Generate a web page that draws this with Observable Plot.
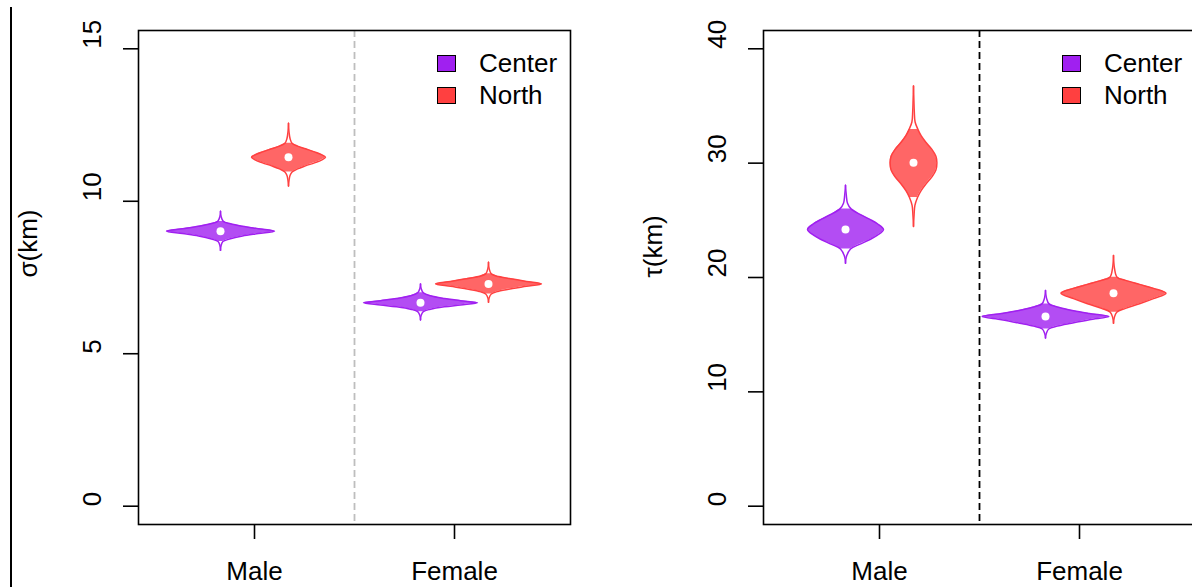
<!DOCTYPE html>
<html><head><meta charset="utf-8">
<script src="https://cdn.jsdelivr.net/npm/d3@7"></script>
<script src="https://cdn.jsdelivr.net/npm/@observablehq/plot@0.6"></script>
<style>
html,body{margin:0;padding:0;background:#fff;overflow:hidden;}
#root{position:relative;width:1192px;height:587px;overflow:hidden;font-family:"Liberation Sans",Arial,sans-serif;}
.panel{position:absolute;top:0;}
.legend{position:absolute;top:47px;font-size:26px;color:#000;}
.legend .row{display:flex;align-items:center;height:32px;}
.legend .sw{width:17px;height:15px;border:1.6px solid #000;margin-right:23px;}
#edge{position:absolute;left:10px;top:7px;width:1.5px;height:580px;background:#000;}
</style></head>
<body><div id="root"><div id="edge"></div></div>
<script>
// ---- data ----
const groups = ["Male", "Female"];
const sites = ["Center", "North"];
const siteStroke = ["#A020F0", "#FF4040"];
const siteFill = ["#B34DF3", "#FF6666"];
const sigmaTicks = [0, 5, 10, 15];
const tauTicks = [0, 10, 20, 30, 40];

// violin profiles: v = value, w = half width (x units); lo/hi = filled interval; med = median
const sigmaMaleCenter = {med: 9.02, lo: 8.68, hi: 9.34,
  v: [8.39, 8.55, 8.68, 8.76, 8.86, 8.94, 9.02, 9.10, 9.18, 9.26, 9.34, 9.50, 9.67],
  w: [0, 0.003, 0.012, 0.045, 0.11, 0.19, 0.27, 0.19, 0.11, 0.05, 0.014, 0.003, 0]};
const sigmaMaleNorth = {med: 11.44, lo: 10.96, hi: 11.90,
  v: [10.50, 10.70, 10.85, 10.96, 11.06, 11.16, 11.26, 11.35, 11.44, 11.53, 11.62, 11.72, 11.81, 11.90, 12.05, 12.25, 12.56],
  w: [0, 0.003, 0.008, 0.018, 0.045, 0.085, 0.13, 0.165, 0.185, 0.165, 0.13, 0.085, 0.045, 0.018, 0.008, 0.003, 0]};
const sigmaFemaleCenter = {med: 6.67, lo: 6.38, hi: 7.00,
  v: [6.11, 6.25, 6.38, 6.46, 6.54, 6.60, 6.67, 6.74, 6.81, 6.90, 7.00, 7.14, 7.29],
  w: [0, 0.003, 0.014, 0.05, 0.12, 0.2, 0.285, 0.2, 0.12, 0.05, 0.014, 0.003, 0]};
const sigmaFemaleNorth = {med: 7.29, lo: 6.96, hi: 7.62,
  v: [6.69, 6.83, 6.96, 7.05, 7.14, 7.21, 7.29, 7.37, 7.45, 7.53, 7.62, 7.80, 8.00],
  w: [0, 0.003, 0.014, 0.05, 0.12, 0.19, 0.265, 0.19, 0.12, 0.05, 0.014, 0.003, 0]};

const tauMaleCenter = {med: 24.2, lo: 22.5, hi: 26.0,
  v: [21.25, 21.8, 22.5, 22.9, 23.3, 23.7, 24.2, 24.7, 25.1, 25.5, 26.0, 26.5, 27.2, 28.07],
  w: [0, 0.004, 0.025, 0.07, 0.12, 0.16, 0.19, 0.16, 0.12, 0.075, 0.028, 0.01, 0.004, 0]};
const tauMaleNorth = {med: 30.03, lo: 27.0, hi: 32.95,
  v: [24.47, 25.5, 26.3, 27.0, 27.6, 28.2, 28.8, 29.4, 30.03, 30.6, 31.2, 31.8, 32.4, 32.95, 33.6, 34.5, 35.5, 36.75],
  w: [0, 0.003, 0.007, 0.02, 0.038, 0.063, 0.092, 0.112, 0.117, 0.112, 0.092, 0.063, 0.038, 0.022, 0.008, 0.004, 0.002, 0]};
const tauFemaleCenter = {med: 16.58, lo: 15.5, hi: 17.69,
  v: [14.71, 15.1, 15.5, 15.75, 16.0, 16.3, 16.58, 16.85, 17.1, 17.4, 17.69, 18.2, 18.86],
  w: [0, 0.004, 0.016, 0.06, 0.13, 0.22, 0.317, 0.22, 0.14, 0.065, 0.018, 0.005, 0]};
const tauFemaleNorth = {med: 18.62, lo: 16.96, hi: 20.03,
  v: [16.0, 16.5, 16.96, 17.3, 17.7, 18.15, 18.62, 19.05, 19.4, 19.75, 20.03, 20.8, 21.93],
  w: [0, 0.004, 0.016, 0.06, 0.13, 0.2, 0.2625, 0.2, 0.13, 0.06, 0.018, 0.005, 0]};

// ---- drawing ----
const siteOffset = [-0.17, 0.17];

function violinMarks(grid) {
  const marks = [];
  const dots = [];
  sites.forEach((s, si) => {
    const rows = [], fillRows = [];
    grid.forEach((row, gi) => {
      const vi = row[si];
      const pos = gi + 1 + siteOffset[si];
      const id = groups[gi] + "-" + s;
      vi.v.forEach((val, k) => {
        const r = {id, pos, value: val, hw: vi.w[k]};
        rows.push(r);
        if (val >= vi.lo - 1e-9 && val <= vi.hi + 1e-9) fillRows.push(r);
      });
      dots.push({pos, med: vi.med});
    });
    marks.push(Plot.areaX(fillRows, {y: "value", x1: d => d.pos - d.hw, x2: d => d.pos + d.hw, z: "id", fill: siteFill[si], curve: "catmull-rom"}));
    marks.push(Plot.line(rows, {x: d => d.pos - d.hw, y: "value", z: "id", stroke: siteStroke[si], strokeWidth: 1.5, curve: "catmull-rom"}));
    marks.push(Plot.line(rows, {x: d => d.pos + d.hw, y: "value", z: "id", stroke: siteStroke[si], strokeWidth: 1.5, curve: "catmull-rom"}));
  });
  marks.push(Plot.dot(dots, {x: "pos", y: "med", r: 4, fill: "white", stroke: null}));
  return marks;
}

function panel({yDomain, yTicks, label, grid, dividerColor}) {
  return Plot.plot({
    width: 596, height: 587,
    marginLeft: 138, marginRight: 26, marginTop: 30, marginBottom: 63,
    x: {domain: [0.42, 2.58], axis: null},
    y: {domain: yDomain, axis: null},
    style: {fontFamily: "'Liberation Sans', Arial, sans-serif", fontSize: "26px", color: "black", background: "transparent", overflow: "visible"},
    marks: [
      Plot.ruleX([1.5], {stroke: dividerColor, strokeDasharray: "7,4", strokeWidth: 1.8}),
      ...violinMarks(grid),
      Plot.frame({stroke: "black", strokeWidth: 1.6}),
      Plot.axisY({ticks: yTicks, tickSize: 15, tickFormat: () => "", label: null, strokeWidth: 1.6}),
      Plot.text(yTicks, {y: d => d, text: d => String(d), frameAnchor: "left", dx: -46, rotate: -90, fontSize: 26, fill: "black"}),
      Plot.axisX({ticks: [1, 2], tickFormat: i => groups[i - 1], label: null, tickSize: 15, tickPadding: 22, fontSize: 26, strokeWidth: 1.6}),
      Plot.text([label], {frameAnchor: "left", dx: -110, rotate: -90, text: d => d, fontSize: 26, fill: "black"})
    ]
  });
}

function legend(left) {
  const div = document.createElement("div");
  div.className = "legend";
  div.style.left = left + "px";
  sites.forEach((s, i) => {
    const row = document.createElement("div");
    row.className = "row";
    const sw = document.createElement("div");
    sw.className = "sw";
    sw.style.background = siteStroke[i];
    const t = document.createElement("span");
    t.textContent = s;
    row.appendChild(sw); row.appendChild(t);
    div.appendChild(row);
  });
  return div;
}

const root = document.getElementById("root");
const p1 = panel({yDomain: [-0.6, 15.6], yTicks: sigmaTicks, label: "σ(km)", dividerColor: "#BEBEBE",
  grid: [[sigmaMaleCenter, sigmaMaleNorth], [sigmaFemaleCenter, sigmaFemaleNorth]]});
p1.classList.add("panel"); p1.style.left = "0px";
const p2 = panel({yDomain: [-1.6, 41.6], yTicks: tauTicks, label: "τ(km)", dividerColor: "#000",
  grid: [[tauMaleCenter, tauMaleNorth], [tauFemaleCenter, tauFemaleNorth]]});
p2.classList.add("panel"); p2.style.left = "625px";
root.appendChild(p1);
root.appendChild(p2);
root.appendChild(legend(437));
root.appendChild(legend(437 + 625));
</script>
</body></html>
